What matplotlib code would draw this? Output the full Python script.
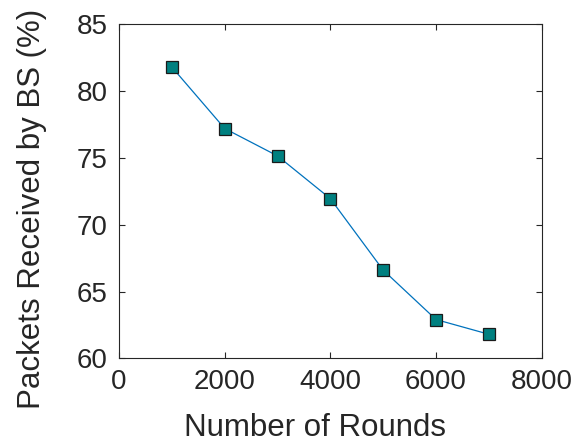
import matplotlib
matplotlib.use("Agg")
import matplotlib.pyplot as plt

rounds = [1000, 2000, 3000, 4000, 5000, 6000, 7000]
packets = [81.8, 77.2, 75.15, 71.95, 66.6, 62.9, 61.8]
xticks = [0, 2000, 4000, 6000, 8000]
yticks = [60, 65, 70, 75, 80, 85]

plt.rcParams['font.family'] = ['Liberation Sans', 'DejaVu Sans']
fig = plt.figure(figsize=(5.77, 4.43), dpi=100)
x0, x1, y0, y1 = 119, 541.7, 24.3, 358.3
ax = fig.add_axes([x0/577, 1-y1/443, (x1-x0)/577, (y1-y0)/443])
ax.plot(rounds, packets, '-', color='#0072BD', lw=0.9,
        marker='s', markersize=8.5, markerfacecolor='#008080',
        markeredgecolor='#1a1a1a', markeredgewidth=0.9)
ax.set_xlim(0, 8000)
ax.set_ylim(60, 85)
ax.set_xticks(xticks)
ax.set_yticks(yticks)
tc = '#262626'
ax.tick_params(direction='in', length=4, width=0.8, colors=tc, labelsize=20,
               top=True, right=True, pad=8)
for s in ax.spines.values():
    s.set_color(tc)
    s.set_linewidth(0.8)
ax.set_xlabel('Number of Rounds', fontsize=22.5, color=tc, va='center')
ax.set_ylabel('Packets Received by BS (%)', fontsize=22.5, color=tc, va='center')
ax.xaxis.set_label_coords((314.5-x0)/(x1-x0), (y1-428)/(y1-y0))
ax.yaxis.set_label_coords((32-x0)/(x1-x0), (y1-209)/(y1-y0))
fig.savefig('out.png', dpi=100)
